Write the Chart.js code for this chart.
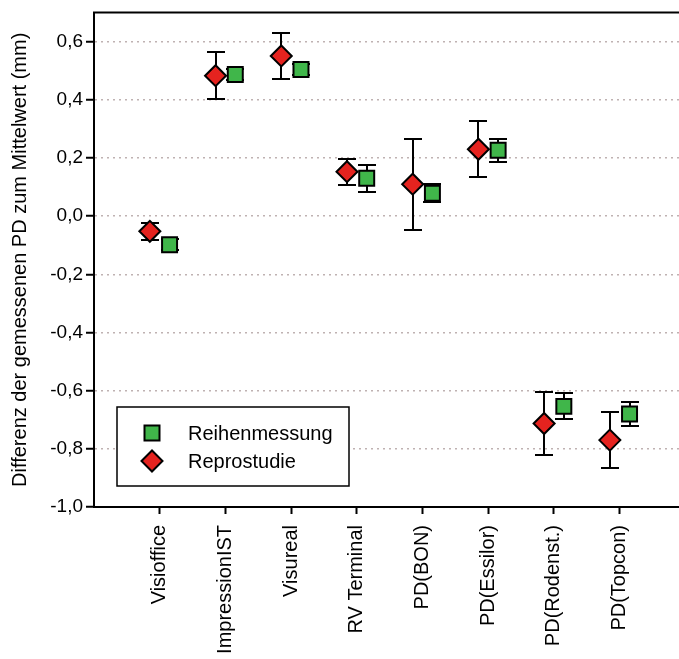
<!DOCTYPE html>
<html>
<head>
<meta charset="utf-8">
<script src="https://cdn.jsdelivr.net/npm/chart.js@4.4.1/dist/chart.umd.min.js"></script>
<style>
  html, body { margin: 0; padding: 0; background: #fff; overflow: hidden; }
  canvas { display: block; }
</style>
</head>
<body>
<canvas id="pdChart" width="698" height="659"></canvas>
<script>
// Messgeräte (x-Kategorien)
const categories = ['Visioffice', 'ImpressionIST', 'Visureal', 'RV Terminal', 'PD(BON)', 'PD(Essilor)', 'PD(Rodenst.)', 'PD(Topcon)'];

// Reihenmessung: Mittelwert und Fehler (mm)
const reiheValues = [-0.098, 0.487, 0.504, 0.130, 0.079, 0.227, -0.654, -0.680];
const reiheErrors = [0.02, 0.02, 0.02, 0.046, 0.03, 0.04, 0.045, 0.042];

// Reprostudie: Mittelwert und Fehler (mm)
const reproValues = [-0.052, 0.483, 0.551, 0.153, 0.110, 0.230, -0.713, -0.770];
const reproErrors = [0.03, 0.08, 0.08, 0.045, 0.157, 0.097, 0.107, 0.097];

// Ticks der y-Achse
const yTicks = [-1.0, -0.8, -0.6, -0.4, -0.2, 0.0, 0.2, 0.4, 0.6];

const FONT = '"Liberation Sans", Arial, sans-serif';
const GREEN = '#40b64a';
const RED = '#e5231f';
const SHIFT = 0.15; // seitlicher Versatz der beiden Serien

// Fehlerbalken hinter den Markern zeichnen
const errorBars = {
  id: 'errorBars',
  beforeDatasetsDraw(chart) {
    const ctx = chart.ctx;
    const yScale = chart.scales.y;
    ctx.save();
    ctx.strokeStyle = '#000';
    ctx.lineWidth = 2;
    chart.data.datasets.forEach((ds, di) => {
      const meta = chart.getDatasetMeta(di);
      meta.data.forEach((pt, i) => {
        const v = ds.data[i].y;
        const e = ds.errors[i];
        const yTop = Math.round(yScale.getPixelForValue(v + e));
        const yBot = Math.round(yScale.getPixelForValue(v - e));
        const x = Math.round(pt.x);
        ctx.beginPath();
        ctx.moveTo(x, yTop); ctx.lineTo(x, yBot);
        ctx.moveTo(x - 9, yTop); ctx.lineTo(x + 9, yTop);
        ctx.moveTo(x - 9, yBot); ctx.lineTo(x + 9, yBot);
        ctx.stroke();
      });
    });
    ctx.restore();
  }
};

// Legende im Diagrammfeld (links unten)
const boxLegend = {
  id: 'boxLegend',
  beforeDatasetsDraw(chart) {
    const { ctx, chartArea } = chart;
    const x = chartArea.left + 23, y = chartArea.bottom - 100, w = 232, h = 79;
    ctx.save();
    ctx.fillStyle = '#fff';
    ctx.fillRect(x, y, w, h);
    ctx.strokeStyle = '#000';
    ctx.lineWidth = 1.5;
    ctx.strokeRect(x, y, w, h);

    const mx = x + 35;
    // Quadrat
    ctx.lineWidth = 2;
    ctx.fillStyle = GREEN;
    ctx.beginPath();
    ctx.rect(mx - 7.5, y + 26 - 7.5, 15, 15);
    ctx.fill(); ctx.stroke();
    // Raute
    const dy = y + 54, r = 10.5;
    ctx.fillStyle = RED;
    ctx.beginPath();
    ctx.moveTo(mx - r, dy); ctx.lineTo(mx, dy - r); ctx.lineTo(mx + r, dy); ctx.lineTo(mx, dy + r);
    ctx.closePath();
    ctx.fill(); ctx.stroke();

    ctx.fillStyle = '#000';
    ctx.font = '20px ' + FONT;
    ctx.textBaseline = 'middle';
    ctx.textAlign = 'left';
    ctx.fillText(chart.data.datasets[0].label, x + 71, y + 27);
    ctx.fillText(chart.data.datasets[1].label, x + 71, dy + 1);
    ctx.restore();
  }
};

// obere Rahmenlinie
const topFrame = {
  id: 'topFrame',
  afterDraw(chart) {
    const { ctx, chartArea } = chart;
    ctx.save();
    ctx.strokeStyle = '#000';
    ctx.lineWidth = 2;
    ctx.beginPath();
    ctx.moveTo(chartArea.left - 1, chartArea.top);
    ctx.lineTo(chartArea.right, chartArea.top);
    ctx.stroke();
    ctx.restore();
  }
};

new Chart(document.getElementById('pdChart').getContext('2d'), {
  type: 'scatter',
  data: {
    datasets: [
      {
        label: 'Reihenmessung',
        data: reiheValues.map((v, i) => ({ x: i + 1 + SHIFT, y: v })),
        errors: reiheErrors,
        pointStyle: 'rect',
        pointRadius: 10.6,
        backgroundColor: GREEN,
        borderColor: '#000',
        borderWidth: 2
      },
      {
        label: 'Reprostudie',
        data: reproValues.map((v, i) => ({ x: i + 1 - SHIFT, y: v })),
        errors: reproErrors,
        pointStyle: 'rectRot',
        pointRadius: 10.5,
        backgroundColor: RED,
        borderColor: '#000',
        borderWidth: 2
      }
    ]
  },
  options: {
    responsive: false,
    animation: false,
    events: [],
    layout: { padding: { top: 10, right: 0, bottom: 0, left: 0 } },
    plugins: { legend: { display: false }, tooltip: { enabled: false } },
    scales: {
      x: {
        type: 'linear',
        min: 0,
        max: 9,
        afterBuildTicks: s => { s.ticks = categories.map((c, i) => ({ value: i + 1 })); },
        afterFit: s => { s.height = 152; },
        grid: { drawOnChartArea: false, drawTicks: true, tickLength: 7, tickColor: '#000', tickWidth: 2 },
        border: { color: '#000', width: 2 },
        ticks: {
          autoSkip: false,
          minRotation: 90,
          maxRotation: 90,
          padding: 11,
          color: '#000',
          font: { family: FONT, size: 20 },
          callback: v => categories[Math.round(v) - 1] || ''
        }
      },
      y: {
        min: -1.0,
        max: 0.7,
        afterBuildTicks: s => { s.ticks = yTicks.map(v => ({ value: v })); },
        afterFit: s => { s.width = 94; },
        grid: { color: '#bfb2b2', lineWidth: 1.5, tickColor: '#000', tickWidth: 2, tickLength: 8 },
        border: { color: '#000', width: 2, dash: [2, 4] },
        ticks: {
          padding: 3,
          color: '#000',
          font: { family: FONT, size: 19, lineHeight: 0.7 },
          callback: v => v.toFixed(1).replace('.', ',')
        },
        title: {
          display: true,
          text: 'Differenz der gemessenen PD zum Mittelwert (mm)',
          color: '#000',
          font: { family: FONT, size: 20 },
          padding: { top: 8, bottom: 0 }
        }
      }
    }
  },
  plugins: [errorBars, boxLegend, topFrame]
});
</script>
</body>
</html>
